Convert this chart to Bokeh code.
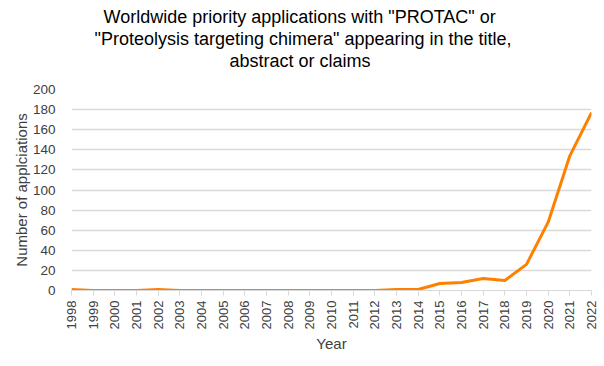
import math
from bokeh.plotting import figure
from bokeh.models import Range1d, FixedTicker, Title
from bokeh.embed import file_html
from bokeh.resources import INLINE

years = list(range(1998, 2023))
applications = [1, 0, 0, 0, 1, 0, 0, 0, 0, 0, 0, 0, 0, 0, 0, 1, 1, 7, 8, 12, 10, 26, 68, 134, 177]
y_ticks = list(range(0, 201, 20))
title_lines = ['Worldwide priority applications with "PROTAC" or',
               '"Proteolysis targeting chimera" appearing in the title,',
               'abstract or claims']
# horizontal offsets (px from the plot frame's left edge) that centre each title line at the page centre
title_offsets = [32, 23, 158]

FONT = "Liberation Sans"
TXT = "#404040"

p = figure(width=604, height=356, output_backend="svg", toolbar_location=None,
           x_range=Range1d(1998, 2022), y_range=Range1d(0, 200),
           min_border_left=71, min_border_right=13, min_border_top=89, min_border_bottom=66)
p.outline_line_color = None
p.background_fill_color = "white"
p.border_fill_color = "white"

p.line(years, applications, line_color="#ff8000", line_width=3, line_join="round")

p.xaxis.ticker = FixedTicker(ticks=years)
p.xaxis.major_label_orientation = math.pi / 2
p.xaxis.major_label_text_font = FONT
p.xaxis.major_label_text_font_size = "13px"
p.xaxis.major_label_text_color = TXT
p.xaxis.axis_line_color = "#d9d9d9"
p.xaxis.major_tick_line_color = "#d9d9d9"
p.xaxis.major_tick_out = 5
p.xaxis.major_tick_in = 0
p.xaxis.minor_tick_line_color = None
p.xaxis.axis_label = "Year"
p.xaxis.axis_label_text_font = FONT
p.xaxis.axis_label_text_font_size = "15px"
p.xaxis.axis_label_text_font_style = "normal"
p.xaxis.axis_label_text_color = TXT
p.xaxis.axis_label_standoff = 3

p.yaxis.ticker = FixedTicker(ticks=y_ticks)
p.yaxis.major_label_text_font = FONT
p.yaxis.major_label_text_font_size = "13.5px"
p.yaxis.major_label_text_color = TXT
p.yaxis.axis_line_color = None
p.yaxis.major_tick_line_color = None
p.yaxis.minor_tick_line_color = None
p.yaxis.major_label_standoff = 10
p.yaxis.axis_label = "Number of applciations"
p.yaxis.axis_label_text_font = FONT
p.yaxis.axis_label_text_font_size = "15px"
p.yaxis.axis_label_text_font_style = "normal"
p.yaxis.axis_label_text_color = TXT
p.yaxis.axis_label_standoff = 0

p.xgrid.grid_line_color = None
p.ygrid.grid_line_color = "#d9d9d9"
p.ygrid.grid_line_width = 1.5

# blank spacer between the plot frame and the title block
p.add_layout(Title(text=" ", text_font=FONT, text_font_size="16px", standoff=0,
                   border_line_color=None), "above")
for line, off in reversed(list(zip(title_lines, title_offsets))):
    p.add_layout(Title(text=line, align="left", offset=off,
                       text_font=FONT, text_font_size="18px", text_font_style="normal",
                       text_color="#000000", standoff=0,
                       border_line_color=None), "above")

open("out.html", "w").write(file_html(p, INLINE))
